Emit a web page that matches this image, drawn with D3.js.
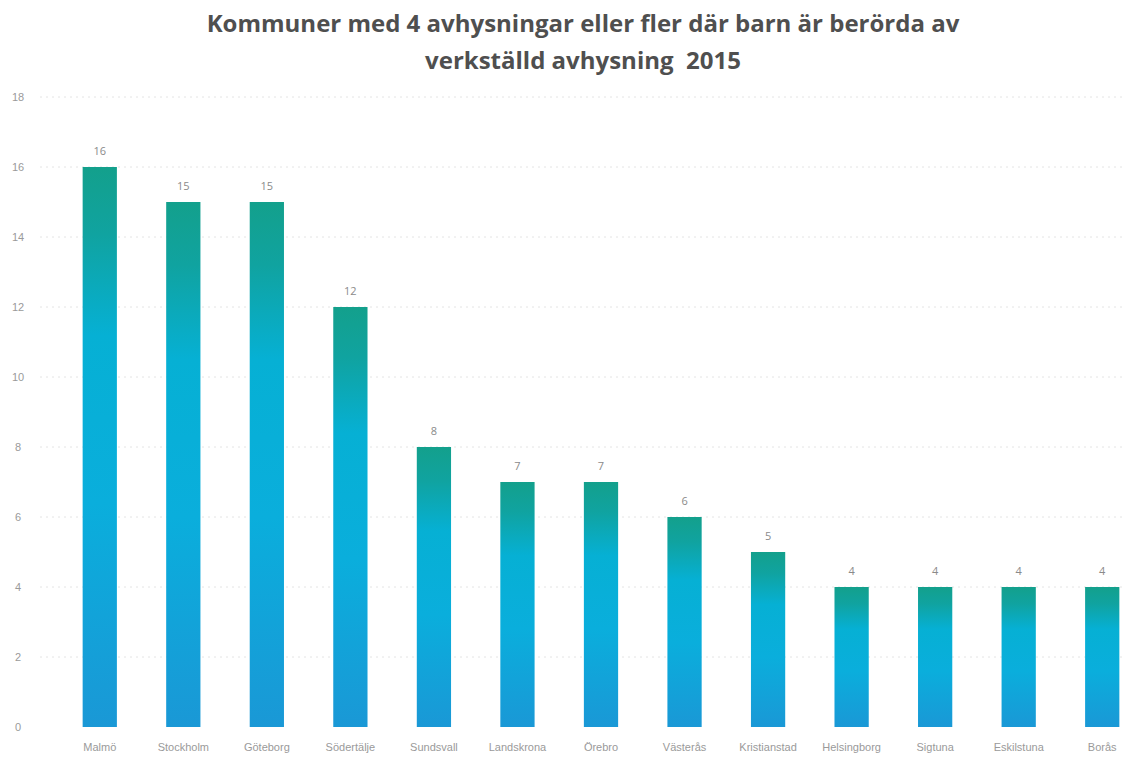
<!DOCTYPE html>
<html>
<head>
<meta charset="utf-8">
<script src="https://cdn.jsdelivr.net/npm/d3@7"></script>
<style>
  body { margin: 0; background: #fff; }
  svg { font-family: "Open Sans", "Noto Sans", sans-serif; }
</style>
</head>
<body>
<svg id="chart" width="1126" height="757"></svg>
<script>
const categories = ['Malmö', 'Stockholm', 'Göteborg', 'Södertälje', 'Sundsvall', 'Landskrona',
  'Örebro', 'Västerås', 'Kristianstad', 'Helsingborg', 'Sigtuna', 'Eskilstuna', 'Borås']
const values = [16, 15, 15, 12, 8, 7, 7, 6, 5, 4, 4, 4, 4]
const yTicks = [0, 2, 4, 6, 8, 10, 12, 14, 16, 18]
const titleLines = ['Kommuner med 4 avhysningar eller fler där barn är berörda av', 'verkställd avhysning  2015']

const svg = d3.select('#chart')
const width = 1126

const x = d3.scaleBand()
  .domain(categories)
  .range([58, 1144])
  .paddingInner(0.59)
  .paddingOuter(0.295)

const y = d3.scaleLinear()
  .domain([0, 18])
  .range([727, 97])

// gradient for the bars
const defs = svg.append('defs')
const grad = defs.append('linearGradient')
  .attr('id', 'barGrad')
  .attr('x1', 0).attr('y1', 0).attr('x2', 0).attr('y2', 1)
grad.append('stop').attr('offset', '0%').attr('stop-color', '#13a08c')
grad.append('stop').attr('offset', '12%').attr('stop-color', '#10a3a0')
grad.append('stop').attr('offset', '30%').attr('stop-color', '#06b0d4')
grad.append('stop').attr('offset', '60%').attr('stop-color', '#0aaedc')
grad.append('stop').attr('offset', '100%').attr('stop-color', '#1a98d6')

// gridlines
svg.append('g')
  .attr('class', 'grid')
  .selectAll('line')
  .data(yTicks.slice(1))
  .enter().append('line')
  .attr('x1', 40).attr('x2', width)
  .attr('y1', d => y(d)).attr('y2', d => y(d))
  .style('stroke', '#e4e4e4')
  .style('stroke-width', 1)
  .style('stroke-dasharray', '2,4')

// y axis
const yAxis = svg.append('g')
  .attr('transform', 'translate(24,0)')
  .call(d3.axisLeft(y).tickValues(yTicks).tickSize(0).tickPadding(0))
yAxis.select('.domain').remove()
yAxis.selectAll('text')
  .attr('text-anchor', 'middle')
  .attr('x', -6)
  .style('font-size', '11px')
  .style('fill', '#9a9a9a')

// x axis
const xAxis = svg.append('g')
  .attr('transform', 'translate(0,' + y(0) + ')')
  .call(d3.axisBottom(x).tickSize(0).tickPadding(16))
xAxis.select('.domain').remove()
xAxis.selectAll('text')
  .style('font-size', '11px')
  .style('fill', '#9a9a9a')

// bars
svg.append('g')
  .selectAll('rect')
  .data(values)
  .enter().append('rect')
  .attr('x', (d, i) => x(categories[i]))
  .attr('y', d => y(d))
  .attr('width', x.bandwidth())
  .attr('height', d => y(0) - y(d))
  .style('fill', 'url(#barGrad)')

// value labels
svg.append('g')
  .selectAll('text')
  .data(values)
  .enter().append('text')
  .attr('x', (d, i) => x(categories[i]) + x.bandwidth() / 2)
  .attr('y', d => y(d) - 12)
  .attr('text-anchor', 'middle')
  .style('font-size', '11px')
  .style('fill', '#8a8a8a')
  .text(d => d)

// title
svg.append('g')
  .selectAll('text')
  .data(titleLines)
  .enter().append('text')
  .attr('x', 583)
  .attr('y', (d, i) => 32 + i * 37)
  .attr('text-anchor', 'middle')
  .attr('xml:space', 'preserve')
  .style('white-space', 'pre')
  .style('font-size', '24px')
  .style('font-weight', 'bold')
  .style('fill', '#4f4f4f')
  .text(d => d)
</script>
</body>
</html>
